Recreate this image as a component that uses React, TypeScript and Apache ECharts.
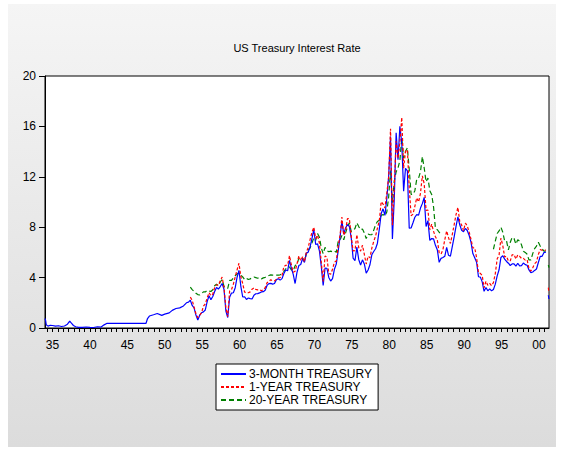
import React, { useEffect, useRef } from "react";
import * as echarts from "echarts";

// ---- Data ----
const SERIES_NAMES = ["3-MONTH TREASURY", "1-YEAR TREASURY", "20-YEAR TREASURY"];

// Early 3-month T-bill readings (only series before 1953)
const earlyYears = [
  1934.0, 1934.08, 1934.17, 1934.4, 1934.7, 1935.0, 1935.4, 1935.8, 1936.2, 1936.6,
  1937.0, 1937.3, 1937.5, 1937.8, 1938.1, 1938.5, 1939.0, 1939.5, 1940.0, 1940.5,
  1941.0, 1941.5, 1941.9, 1942.3, 1943.0, 1945.0, 1947.5, 1947.7, 1947.95, 1948.5,
  1949.0, 1949.6, 1950.0, 1950.6, 1951.0, 1951.5, 1952.0, 1952.5, 1952.9, 1953.17,
];
const early3m = [
  0.75, 0.6, 0.25, 0.15, 0.22, 0.2, 0.15, 0.18, 0.12, 0.16,
  0.3, 0.55, 0.4, 0.2, 0.1, 0.05, 0.05, 0.08, 0.05, 0.04,
  0.1, 0.08, 0.25, 0.37, 0.375, 0.375, 0.375, 0.75, 0.95, 1.05,
  1.15, 1.0, 1.1, 1.2, 1.4, 1.55, 1.6, 1.75, 2.0, 2.05,
];

// Quarterly readings (Mar, Jun, Sep, Dec) from Jun 1953 to Dec 2000
const QUARTER_START = 1953 + 5 / 12;
const q3m = [
  2.2, 1.79, 1.6, // 1953
  1.03, 0.64, 1.01, 1.21, // 1954
  1.28, 1.43, 2.09, 2.56, // 1955
  2.25, 2.5, 2.89, 3.21, // 1956
  3.09, 3.29, 3.53, 3.08, // 1957
  1.35, 0.83, 2.44, 2.77, // 1958
  2.8, 3.2, 4.04, 4.57, // 1959
  3.31, 2.46, 2.48, 2.27, // 1960
  2.38, 2.33, 2.3, 2.6, // 1961
  2.72, 2.73, 2.79, 2.86, // 1962
  2.88, 2.99, 3.38, 3.52, // 1963
  3.54, 3.48, 3.53, 3.84, // 1964
  3.91, 3.8, 3.92, 4.33, // 1965
  4.6, 4.54, 5.36, 4.76, // 1966
  4.26, 3.53, 4.42, 4.96, // 1967
  5.04, 5.52, 5.2, 5.94, // 1968
  6.02, 6.44, 7.09, 7.82, // 1969
  6.63, 6.68, 6.12, 4.87, // 1970
  3.38, 4.75, 4.74, 4.01, // 1971
  3.73, 3.91, 4.66, 5.07, // 1972
  6.09, 7.19, 8.5, 7.45, // 1973
  7.96, 8.2, 8.06, 7.15, // 1974
  5.54, 5.34, 6.42, 5.44, // 1975
  5.0, 5.41, 5.08, 4.35, // 1976
  4.6, 5.02, 5.81, 6.07, // 1977
  6.29, 6.73, 7.85, 9.08, // 1978
  9.46, 8.94, 10.26, 12.04, // 1979
  15.2, 7.07, 10.26, 15.49, // 1980
  13.36, 16.0, 14.7, 10.85, // 1981
  12.68, 12.47, 7.92, 7.94, // 1982
  8.35, 8.79, 9.0, 8.96, // 1983
  9.52, 9.87, 10.37, 8.06, // 1984
  8.52, 6.95, 7.1, 7.07, // 1985
  6.56, 6.21, 5.21, 5.53, // 1986
  5.59, 5.69, 6.4, 5.77, // 1987
  5.7, 6.46, 7.24, 8.07, // 1988
  8.82, 8.19, 7.75, 7.64, // 1989
  7.9, 7.74, 7.36, 6.81, // 1990
  5.91, 5.57, 5.22, 4.07, // 1991
  4.04, 3.66, 2.91, 3.22, // 1992
  2.95, 3.1, 2.95, 3.06, // 1993
  3.48, 4.14, 4.62, 5.6, // 1994
  5.73, 5.47, 5.28, 5.14, // 1995
  4.96, 5.09, 5.09, 4.91, // 1996
  5.14, 4.93, 4.95, 5.16, // 1997
  5.03, 4.98, 4.61, 4.39, // 1998
  4.44, 4.57, 4.68, 5.2, // 1999
  5.69, 5.69, 6.0, 6.0, // 2000
];
const q1y = [
  2.45, 2.2, 1.66, // 1953
  1.13, 0.82, 1.03, 1.21, // 1954
  1.73, 1.91, 2.39, 2.81, // 1955
  2.56, 2.69, 3.21, 3.43, // 1956
  3.39, 3.75, 4.04, 3.2, // 1957
  1.62, 0.91, 2.93, 3.04, // 1958
  3.48, 4.06, 4.62, 5.14, // 1959
  4.08, 3.52, 2.85, 2.82, // 1960
  2.8, 2.87, 3.08, 3.18, // 1961
  3.06, 3.03, 3.04, 2.95, // 1962
  3.05, 3.19, 3.59, 3.7, // 1963
  3.83, 3.75, 3.74, 3.86, // 1964
  3.98, 3.99, 4.17, 4.88, // 1965
  4.98, 4.98, 5.74, 5.0, // 1966
  4.42, 4.5, 5.08, 5.72, // 1967
  5.34, 5.66, 5.25, 6.02, // 1968
  6.39, 7.02, 7.6, 8.0, // 1969
  7.1, 7.35, 6.73, 5.2, // 1970
  3.7, 5.72, 5.62, 4.33, // 1971
  4.26, 4.66, 5.22, 5.31, // 1972
  6.46, 7.33, 8.8, 7.36, // 1973
  7.76, 8.69, 8.67, 7.27, // 1974
  6.11, 6.14, 7.41, 6.38, // 1975
  6.1, 6.57, 5.84, 5.08, // 1976
  5.69, 5.58, 6.34, 6.86, // 1977
  7.3, 7.93, 8.51, 10.02, // 1978
  9.84, 9.53, 10.67, 11.98, // 1979
  15.82, 8.16, 11.21, 14.82, // 1980
  13.48, 14.74, 16.72, 12.69, // 1981
  14.03, 14.14, 11.18, 8.91, // 1982
  9.04, 9.66, 10.32, 10.0, // 1983
  10.69, 12.08, 11.44, 9.33, // 1984
  9.36, 7.8, 8.24, 7.67, // 1985
  7.24, 6.98, 5.98, 5.87, // 1986
  6.22, 7.01, 7.7, 7.17, // 1987
  6.71, 7.42, 8.19, 8.99, // 1988
  9.57, 8.44, 8.17, 7.72, // 1989
  8.32, 8.1, 7.63, 7.05, // 1990
  6.35, 6.36, 5.57, 4.38, // 1991
  4.34, 4.17, 3.18, 3.71, // 1992
  3.39, 3.54, 3.36, 3.61, // 1993
  4.32, 5.49, 5.76, 7.14, // 1994
  6.53, 5.64, 5.69, 5.31, // 1995
  5.34, 5.81, 5.83, 5.47, // 1996
  5.8, 5.69, 5.52, 5.53, // 1997
  5.39, 5.41, 4.71, 4.52, // 1998
  4.78, 5.1, 5.25, 5.84, // 1999
  6.22, 6.17, 6.13, 6.2, // 2000
];
const q20y = [
  3.25, 3.05, 2.9, // 1953
  2.75, 2.65, 2.62, 2.72, // 1954
  2.87, 2.86, 2.98, 2.93, // 1955
  2.9, 3.03, 3.35, 3.48, // 1956
  3.35, 3.65, 3.85, 3.3, // 1957
  3.2, 3.15, 3.78, 3.78, // 1958
  3.98, 4.15, 4.3, 4.35, // 1959
  4.2, 4.05, 3.85, 3.95, // 1960
  3.85, 3.9, 3.98, 4.05, // 1961
  4.0, 3.95, 4.0, 3.9, // 1962
  3.98, 4.02, 4.1, 4.17, // 1963
  4.22, 4.2, 4.2, 4.2, // 1964
  4.2, 4.22, 4.3, 4.48, // 1965
  4.7, 4.75, 4.85, 4.6, // 1966
  4.55, 4.95, 5.05, 5.55, // 1967
  5.55, 5.55, 5.28, 5.9, // 1968
  6.2, 6.35, 6.75, 7.15, // 1969
  6.95, 7.5, 7.2, 6.35, // 1970
  5.9, 6.4, 6.15, 6.05, // 1971
  6.1, 6.05, 6.12, 6.0, // 1972
  6.85, 6.95, 7.35, 7.0, // 1973
  7.55, 8.05, 8.35, 7.65, // 1974
  7.75, 7.9, 8.35, 8.05, // 1975
  7.8, 7.85, 7.55, 7.1, // 1976
  7.45, 7.4, 7.4, 7.75, // 1977
  8.2, 8.45, 8.55, 8.95, // 1978
  9.0, 8.9, 9.2, 10.4, // 1979
  12.5, 9.95, 11.65, 12.4, // 1980
  12.7, 13.3, 15.1, 13.5, // 1981
  14.0, 14.3, 12.6, 10.6, // 1982
  10.6, 10.9, 11.8, 11.9, // 1983
  12.4, 13.6, 12.7, 11.6, // 1984
  11.9, 10.9, 10.6, 9.6, // 1985
  7.9, 7.8, 7.6, 7.45, // 1986
  null, null, null, null, // 1987
  null, null, null, null, // 1988
  null, null, null, null, // 1989
  null, null, null, null, // 1990
  null, null, null, null, // 1991
  null, null, null, null, // 1992
  null, null, null, 6.25, // 1993
  6.9, 7.5, 7.7, 8.0, // 1994
  7.6, 6.9, 6.9, 6.2, // 1995
  6.8, 7.2, 7.1, 6.65, // 1996
  7.0, 6.9, 6.6, 6.1, // 1997
  6.0, 5.85, 5.4, 5.4, // 1998
  5.9, 6.3, 6.5, 6.8, // 1999
  6.5, 6.3, 6.1, 6.1, // 2000
];

// Final readings after a gap, 2001
const tailYears = [2001.25, 2001.33];
const tail3m = [2.6, 2.3];
const tail1y = [3.2, 2.8];
const tail20y = [5.0, 4.8];

const yTicks = [0, 4, 8, 12, 16, 20];
const xLabelYears = [1935, 1940, 1945, 1950, 1955, 1960, 1965, 1970, 1975, 1980, 1985, 1990, 1995, 2000];

export default function App() {
  const ref = useRef<HTMLDivElement>(null);

  useEffect(() => {
    if (!ref.current) return;
    const chart = echarts.init(ref.current, null, { renderer: "svg" });

    const qYears = q3m.map((_, i) => QUARTER_START + i * 0.25);
    const gapAt = 2001.1;
    const blue: any[] = [
      ...earlyYears.map((y, i) => [y, early3m[i]]),
      ...qYears.map((y, i) => [y, q3m[i]]),
      [gapAt, null],
      ...tailYears.map((y, i) => [y, tail3m[i]]),
    ];
    const red: any[] = [
      ...qYears.map((y, i) => [y, q1y[i]]),
      [gapAt, null],
      ...tailYears.map((y, i) => [y, tail1y[i]]),
    ];
    const green: any[] = [
      ...qYears.map((y, i) => [y, q20y[i]]),
      [gapAt, null],
      ...tailYears.map((y, i) => [y, tail20y[i]]),
    ];

    const tickVals: number[] = [];
    for (let k = -1; k <= 92; k++) tickVals.push(1935 + (k * 5) / 7);

    const font = "'Liberation Sans', Arial, sans-serif";

    chart.setOption({
      animation: false,
      textStyle: { fontFamily: font },
      graphic: [
        {
          type: "text",
          x: 297,
          y: 48,
          style: {
            text: "US Treasury Interest Rate",
            fontSize: 11,
            fontFamily: font,
            fill: "#000",
            align: "center",
            verticalAlign: "middle",
          },
        },
      ],
      grid: {
        left: 45,
        top: 76,
        right: 14,
        bottom: 122,
        show: true,
        backgroundColor: "#ffffff",
        borderColor: "#000",
        borderWidth: 1,
        containLabel: false,
      },
      legend: {
        orient: "vertical",
        left: 216,
        top: 364,
        itemWidth: 25,
        itemHeight: 12,
        itemGap: 1,
        padding: [4, 6, 4, 4],
        borderColor: "#000",
        borderWidth: 1,
        backgroundColor: "#ffffff",
        selectedMode: false,
        itemStyle: { opacity: 0 },
        textStyle: { fontSize: 12, color: "#000", fontFamily: font, padding: [0, 0, 0, -2] },
        data: SERIES_NAMES,
      },
      xAxis: {
        type: "value",
        min: 1934,
        max: 2001.34,
        axisLine: { show: true, onZero: false, lineStyle: { color: "#000", width: 1 } },
        axisTick: { show: true, customValues: tickVals, length: 4, lineStyle: { color: "#000" } },
        axisLabel: {
          customValues: xLabelYears,
          fontSize: 12,
          color: "#000",
          margin: 11,
          fontFamily: font,
          formatter: (v: number) => String(Math.round(v) % 100).padStart(2, "0"),
        },
        splitLine: { show: false },
      },
      yAxis: {
        type: "value",
        min: yTicks[0],
        max: yTicks[yTicks.length - 1],
        interval: 4,
        axisLine: { show: true, lineStyle: { color: "#000", width: 1 } },
        axisTick: { show: true, length: 6, lineStyle: { color: "#000" } },
        axisLabel: { fontSize: 12, color: "#000", margin: 9, fontFamily: font },
        splitLine: { show: false },
      },
      series: [
        {
          name: SERIES_NAMES[0],
          type: "line",
          data: blue,
          symbol: "none",
          connectNulls: false,
          lineStyle: { color: "#0000ff", width: 1.2 },
          itemStyle: { color: "#0000ff" },
          z: 3,
        },
        {
          name: SERIES_NAMES[1],
          type: "line",
          data: red,
          symbol: "none",
          connectNulls: false,
          lineStyle: { color: "#ff0000", width: 1.2, type: [3, 2] },
          itemStyle: { color: "#ff0000" },
          z: 4,
        },
        {
          name: SERIES_NAMES[2],
          type: "line",
          data: green,
          symbol: "none",
          connectNulls: false,
          lineStyle: { color: "#008000", width: 1.2, type: [5, 3] },
          itemStyle: { color: "#008000" },
          z: 2,
        },
      ],
    });

    return () => chart.dispose();
  }, []);

  return (
    <div style={{ position: "absolute", left: 0, top: 0, width: 563, height: 450, background: "#ffffff" }}>
      <div
        style={{
          position: "absolute",
          left: 8,
          top: 4,
          width: 548,
          height: 443,
          background: "linear-gradient(#f5f5f5, #dcdcdc)",
        }}
      />
      <div ref={ref} style={{ position: "absolute", left: 0, top: 0, width: 563, height: 450 }} />
    </div>
  );
}
